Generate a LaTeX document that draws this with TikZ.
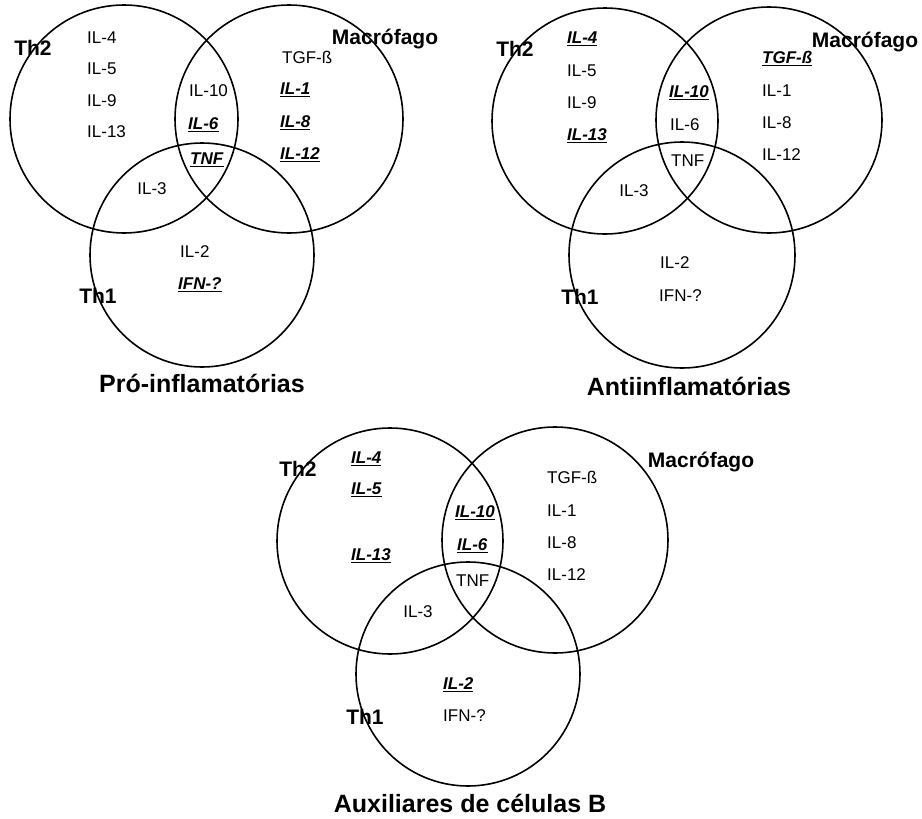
\documentclass[tikz,border=0pt]{standalone}
\usepackage{fontspec}
\setmainfont{Liberation Sans}
\newcommand\uit[1]{\underline{\textbf{\textit{#1}}}}
\begin{document}
\begin{tikzpicture}[x=1pt,y=-1pt,
  ring/.style={line width=1.6pt},
  lbl/.style={inner sep=0pt,font=\fontsize{21}{23}\selectfont\bfseries},
  ttl/.style={inner sep=0pt,font=\fontsize{25}{28}\selectfont\bfseries},
  txt/.style={inner sep=0pt,anchor=west,text height=12.5pt,text depth=3pt,font=\fontsize{17}{19}\selectfont},
  ctxt/.style={inner sep=0pt,text height=12.5pt,text depth=3pt,font=\fontsize{17}{19}\selectfont}]
\useasboundingbox (0,0) rectangle (922,819);
% ---------- Venn 1: Pro-inflamatorias ----------
\draw[ring] (124,119) circle[radius=114pt];
\draw[ring] (289,119) circle[radius=114pt];
\draw[ring] (202,255) circle[radius=112pt];
\node[lbl] (a-th2) at (33,48) {Th2};
\node[lbl] (a-mac) at (385,39) {Macrófago};
\node[lbl] (a-th1) at (98,296) {Th1};
\node[txt] (a-il4) at (87,39) {IL-4};
\node[txt] (a-il5) at (87,70) {IL-5};
\node[txt] (a-il9) at (87,102) {IL-9};
\node[txt] (a-il13) at (87,133) {IL-13};
\node[txt] (a-il10) at (189,92) {IL-10};
\node[txt] (a-il6) at (188,125) {\uit{IL-6}};
\node[txt] (a-tnf) at (190,160) {\uit{TNF}};
\node[txt] (a-tgf) at (282,59) {TGF-ß};
\node[txt] (a-il1) at (280,90) {\uit{IL-1}};
\node[txt] (a-il8) at (280,123) {\uit{IL-8}};
\node[txt] (a-il12) at (280,155) {\uit{IL-12}};
\node[ctxt] (a-il3) at (152,190) {IL-3};
\node[txt] (a-il2) at (180,253) {IL-2};
\node[txt] (a-ifn) at (178,285) {\uit{IFN-?}};
\node[ttl] (a-title) at (202,383) {Pró-inflamatórias};
% ---------- Venn 2: Antiinflamatorias ----------
\draw[ring] (605,121) circle[radius=113pt];
\draw[ring] (769,120) circle[radius=113pt];
\draw[ring] (682,255) circle[radius=113pt];
\node[lbl] (b-th2) at (515,49) {Th2};
\node[lbl] (b-mac) at (865,42) {Macrófago};
\node[lbl] (b-th1) at (580,297) {Th1};
\node[txt] (b-il4) at (567,39) {\uit{IL-4}};
\node[txt] (b-il5) at (567,72) {IL-5};
\node[txt] (b-il9) at (567,104) {IL-9};
\node[txt] (b-il13) at (567,136) {\uit{IL-13}};
\node[txt] (b-il10) at (669,93) {\uit{IL-10}};
\node[txt] (b-il6) at (670,126) {IL-6};
\node[txt] (b-tnf) at (671,162) {TNF};
\node[txt] (b-tgf) at (762,59) {\uit{TGF-ß}};
\node[txt] (b-il1) at (762,92) {IL-1};
\node[txt] (b-il8) at (762,124) {IL-8};
\node[txt] (b-il12) at (762,156) {IL-12};
\node[ctxt] (b-il3) at (634,192) {IL-3};
\node[txt] (b-il2) at (660,264) {IL-2};
\node[txt] (b-ifn) at (659,297) {IFN-?};
\node[ttl] (b-title) at (689,386) {Antiinflamatórias};
% ---------- Venn 3: Auxiliares de celulas B ----------
\draw[ring] (390,541) circle[radius=113pt];
\draw[ring] (555,540) circle[radius=113pt];
\draw[ring] (468,674) circle[radius=112pt];
\node[lbl] (c-th2) at (298,469) {Th2};
\node[lbl] (c-mac) at (701,462) {Macrófago};
\node[lbl] (c-th1) at (365,717) {Th1};
\node[txt] (c-il4) at (351,459) {\uit{IL-4}};
\node[txt] (c-il5) at (351,490) {\uit{IL-5}};
\node[txt] (c-il13) at (351,556) {\uit{IL-13}};
\node[txt] (c-il10) at (455,513) {\uit{IL-10}};
\node[txt] (c-il6) at (457,546) {\uit{IL-6}};
\node[txt] (c-tnf) at (456,582) {TNF};
\node[txt] (c-tgf) at (547,479) {TGF-ß};
\node[txt] (c-il1) at (547,512) {IL-1};
\node[txt] (c-il8) at (547,544) {IL-8};
\node[txt] (c-il12) at (547,576) {IL-12};
\node[ctxt] (c-il3) at (418,613) {IL-3};
\node[txt] (c-il2) at (443,685) {\uit{IL-2}};
\node[txt] (c-ifn) at (443,717) {IFN-?};
\node[ttl] (c-title) at (470,803) {Auxiliares de células B};
\end{tikzpicture}
\end{document}
